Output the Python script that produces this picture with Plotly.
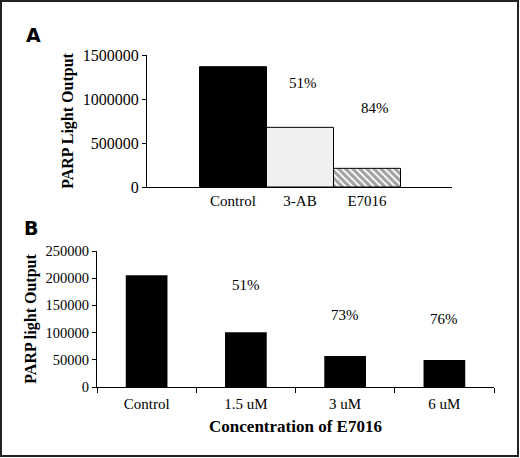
import plotly.graph_objects as go

W, H = 520, 458

# panel A data
a_labels = ["Control", "3-AB", "E7016"]
a_values = [1367000, 678000, 212000]
a_pct = ["", "51%", "84%"]
a_pct_y = [0, 1182000, 898000]

# panel B data
b_labels = ["Control", "1.5 uM", "3 uM", "6 uM"]
b_values = [205500, 100500, 57000, 49600]
b_pct = ["", "51%", "73%", "76%"]
b_pct_y = [0, 187500, 132000, 125000]

serif = "Liberation Serif, Times New Roman, serif"


def px_x(p):
    return p / W


def px_y(p):
    return 1 - p / H


fig = go.Figure()

fig.add_trace(go.Bar(
    x=list(range(len(a_labels))), y=a_values, width=1,
    marker=dict(color=["black", "#f0f0f0", "white"],
                line=dict(color="black", width=1),
                pattern=dict(shape=["", "", "\\"], fgcolor="black",
                             bgcolor="white", size=5, solidity=0.65)),
    xaxis="x", yaxis="y", showlegend=False, hoverinfo="skip"))

fig.add_trace(go.Bar(
    x=b_labels, y=b_values,
    marker=dict(color="black", line=dict(width=0)),
    xaxis="x2", yaxis="y2", showlegend=False, hoverinfo="skip"))

axis_common = dict(showline=True, linecolor="black", linewidth=1,
                   showgrid=False, zeroline=False, automargin=False,
                   tickfont=dict(family=serif, size=15, color="black"))

fig.update_layout(
    width=W, height=H,
    margin=dict(l=0, r=0, t=0, b=0),
    paper_bgcolor="white", plot_bgcolor="white",
    bargap=0.58,
    xaxis=dict(axis_common, domain=[px_x(147), px_x(452)], anchor="y",
               range=[-1.284, 3.269], tickvals=list(range(len(a_labels))),
               ticktext=a_labels, ticks=""),
    yaxis=dict(axis_common, domain=[px_y(187), px_y(55)], anchor="x",
               range=[0, 1500000], tickvals=[0, 500000, 1000000, 1500000],
               tickformat="d", ticks="outside", ticklen=4, tickcolor="black",
               tickfont=dict(family=serif, size=16, color="black"),
               title=dict(text="<b>PARP Light Output</b>", standoff=5,
                          font=dict(family=serif, size=16, color="black"))),
    xaxis2=dict(axis_common, domain=[px_x(97), px_x(494)], anchor="y2",
                type="category", range=[-0.5, 3.5], tickson="boundaries",
                ticks="outside", ticklen=5, tickcolor="black",
                ticklabelstandoff=3,
                tickfont=dict(family=serif, size=15, color="black"),
                title=dict(text="<b>Concentration of E7016</b>", standoff=9,
                           font=dict(family=serif, size=17, color="black"))),
    yaxis2=dict(axis_common, domain=[px_y(387), px_y(251)], anchor="x2",
                range=[0, 250000], dtick=50000, tickformat="d",
                ticks="outside", ticklen=4, tickcolor="black",
                tickfont=dict(family=serif, size=14.5, color="black"),
                title=dict(text="<b>PARP light Output</b>", standoff=4,
                           font=dict(family=serif, size=16, color="black"))),
)

for i, t in enumerate(a_pct):
    if t:
        fig.add_annotation(x=i, y=a_pct_y[i], xref="x", yref="y", text=t,
                           showarrow=False, xshift=3 if i == 1 else 8,
                           font=dict(family=serif, size=15, color="black"))
for i, t in enumerate(b_pct):
    if t:
        fig.add_annotation(x=b_labels[i], y=b_pct_y[i], xref="x2", yref="y2",
                           text=t, showarrow=False,
                           font=dict(family=serif, size=15, color="black"))

# panel letters
for letter, lx, ly in [("A", 33, 35), ("B", 31, 228)]:
    fig.add_annotation(x=px_x(lx), y=px_y(ly), xref="paper", yref="paper",
                       xanchor="center", yanchor="middle",
                       text="<b>" + letter + "</b>", showarrow=False,
                       font=dict(family="Verdana, DejaVu Sans", size=19,
                                 color="black"))

# end tick of panel A x axis
fig.add_shape(type="line", xref="x domain", yref="y", x0=1, x1=1,
              ysizemode="pixel", yanchor=0, y0=0, y1=-5,
              line=dict(color="black", width=1))

# outer frame
fig.add_shape(type="rect", xref="paper", yref="paper",
              x0=px_x(1), x1=px_x(518), y0=px_y(456), y1=px_y(1),
              line=dict(color="#222222", width=2))

fig.write_html("out.html", config={"displayModeBar": False},
               post_script="document.body.style.margin='0';")
